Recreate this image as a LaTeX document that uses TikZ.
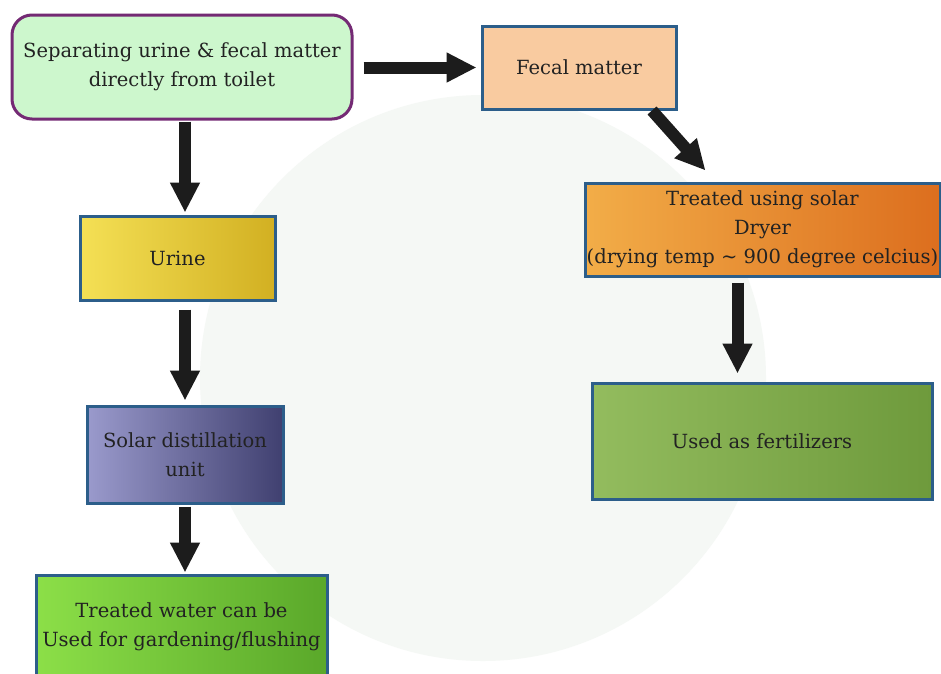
\documentclass[tikz,border=0pt]{standalone}
\usepackage{fontspec}
\setmainfont{DejaVu Serif}
\usetikzlibrary{arrows.meta,calc}
\definecolor{topfill}{HTML}{CDF7CD}
\definecolor{topdraw}{HTML}{742A74}
\definecolor{boxblue}{HTML}{2C5E8A}
\definecolor{fecalfill}{HTML}{F9CBA0}
\definecolor{dryA}{HTML}{F2AD48}
\definecolor{dryB}{HTML}{DC6E1E}
\definecolor{ferA}{HTML}{93BC5E}
\definecolor{ferB}{HTML}{6E9A3C}
\definecolor{urA}{HTML}{F4E055}
\definecolor{urB}{HTML}{D2B022}
\definecolor{solA}{HTML}{9A9ACC}
\definecolor{solB}{HTML}{404070}
\definecolor{watA}{HTML}{8CDF48}
\definecolor{watB}{HTML}{5AA82A}
\definecolor{arrc}{HTML}{1C1C1C}
\definecolor{txtc}{HTML}{222222}
\definecolor{bgc}{HTML}{F5F8F5}
\begin{document}
\begin{tikzpicture}[x=1pt,y=-1pt,
  box/.style={draw=boxblue, line width=3pt, rectangle, align=center, text=txtc,
    inner sep=0pt, font=\fontsize{19.5}{29}\selectfont},
  arr/.style={arrc, line width=12pt, -{Triangle[width=28pt,length=30pt]}}]
\clip (0,0) rectangle (941,673);
\fill[white] (0,0) rectangle (941,673);
\fill[bgc] (483,378) circle (283);
% nodes
\node[box, draw=topdraw, fill=topfill, rounded corners=20pt,
  minimum width=340pt, minimum height=104pt] (top) at (182,67)
  {Separating urine \& fecal matter\\directly from toilet};
\node[box, fill=fecalfill, minimum width=194pt, minimum height=83pt] (fecal) at (579,67.5) {Fecal matter};
\node[box, left color=dryA, right color=dryB, minimum width=355pt, minimum height=93pt] (dryer) at (762.5,229.5)
  {Treated using solar\\Dryer\\(drying temp \char`~\ 900 degree celcius)};
\node[box, left color=ferA, right color=ferB, minimum width=340pt, minimum height=116pt] (fert) at (762,441) {Used as fertilizers};
\node[box, left color=urA, right color=urB, minimum width=195pt, minimum height=84pt] (urine) at (177.5,258) {Urine};
\node[box, left color=solA, right color=solB, minimum width=196pt, minimum height=97pt] (solar) at (185,454.5) {Solar distillation\\unit};
\node[box, left color=watA, right color=watB, minimum width=291pt, minimum height=104pt] (water) at (181.5,627)
  {Treated water can be\\Used for gardening/flushing};
% arrows
\draw[arr, shorten <=10pt, shorten >=4pt] (top.east |- fecal.west) -- (fecal.west);
\draw[arr, shorten <=1pt, shorten >=2pt] (top.south -| solar.north) -- (urine.north -| solar.north);
\draw[arr, shorten <=8pt, shorten >=4pt] (urine.south -| solar.north) -- (solar.north);
\draw[arr, shorten <=2pt, shorten >=1pt] (solar.south) -- (water.north -| solar.south);
\draw[arr] ([xshift=73pt]fecal.south) -- ([xshift=-57pt,yshift=11pt]dryer.north);
\draw[arr, shorten <=5pt, shorten >=8pt] ([xshift=-25pt]dryer.south) -- ([xshift=-25pt]dryer.south |- fert.north);
\end{tikzpicture}
\end{document}
